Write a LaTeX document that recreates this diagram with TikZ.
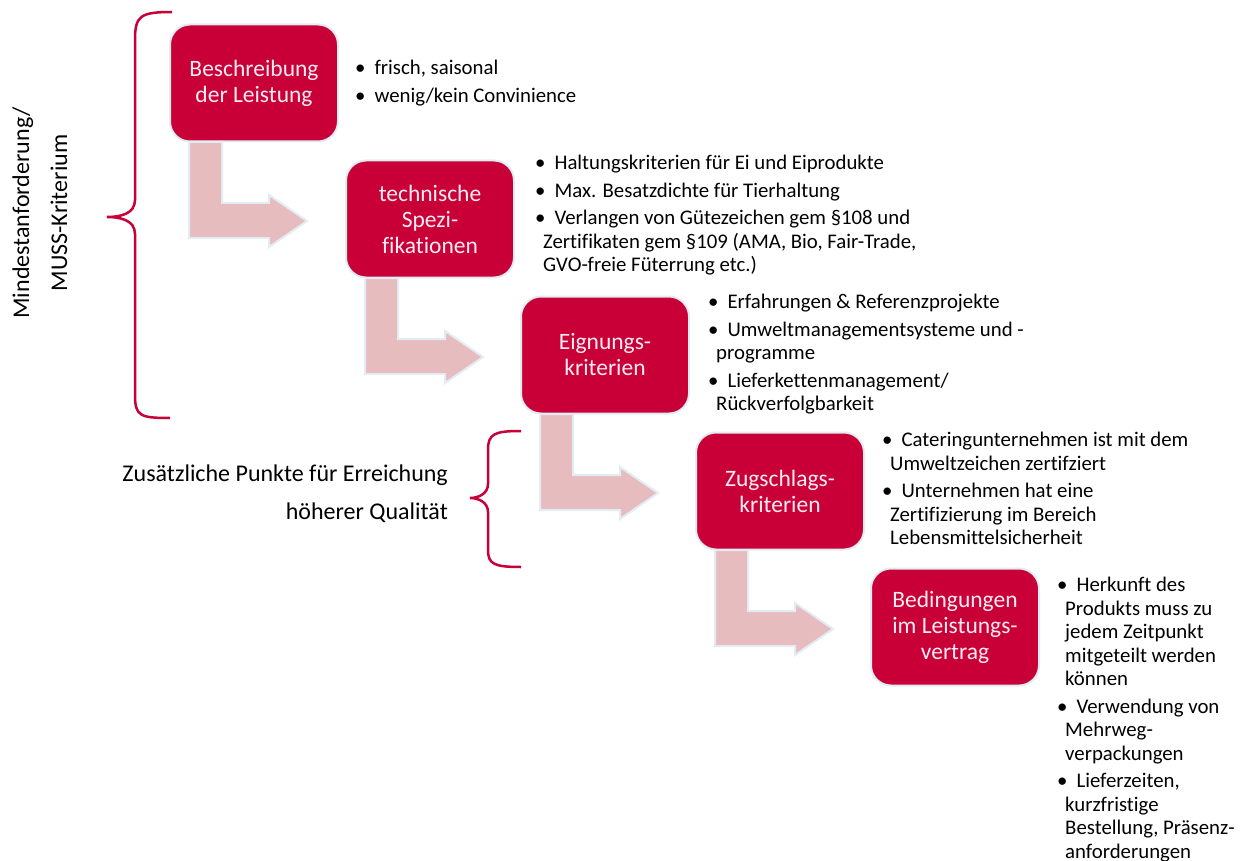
\documentclass[tikz,border=0pt]{standalone}
\usepackage{fontspec}
\setmainfont{Carlito}[Ligatures=NoCommon]
\usepackage{tikz}

\definecolor{crimson}{RGB}{200,0,55}
\definecolor{rosearrow}{RGB}{230,188,191}
\definecolor{paleedge}{RGB}{226,236,242}
\definecolor{boxtext}{RGB}{252,236,241}

\newcommand{\bul}{\textbullet\hspace{9pt}}
\newcommand{\cnt}{\hspace{8pt}}

\tikzset{
  stage/.style={rectangle,rounded corners=20pt,fill=crimson,draw=paleedge,line width=2pt,
    minimum width=168pt,minimum height=117pt,align=center,text=boxtext,
    font=\fontsize{23.5}{26}\selectfont},
  points/.style={anchor=north west,inner sep=0pt,align=left,
    font=\fontsize{20.8}{23.5}\selectfont},
  bentarrow/.style={fill=rosearrow,draw=paleedge,line width=2pt,line join=miter},
  bracket/.style={draw=crimson,line width=2.5pt},
  side/.style={inner sep=0pt,font=\fontsize{24}{38}\selectfont}
}

\begin{document}
\begin{tikzpicture}[x=1pt,y=-1pt]
  \useasboundingbox (0,0) rectangle (1250,861);
  % the stages
  \node[stage] (b1) at (254,83) {Beschreibung\\der Leistung};
  \node[stage] (b2) at (430,219) {technische\\Spezi-\\fikationen};
  \node[stage] (b3) at (605,355) {Eignungs-\\kriterien};
  \node[stage] (b4) at (780,491) {Zugschlags-\\kriterien};
  \node[stage] (b5) at (955,627) {Bedingungen\\im Leistungs-\\vertrag};
  % arrows from one stage to the next
  \foreach \i in {1,...,4}
    \draw[bentarrow,shift={(b\i.center)}] (-65,59) -- (-32,59) -- (-32,120) -- (15,120)
      -- (15,112) -- (53,138) -- (15,164) -- (15,155) -- (-65,155) -- cycle;
  % the lists
  \node[points] (l1) at (355,60) {\bul frisch, saisonal\\[4pt]
    \bul wenig/kein Convinience};
  \node[points] (l2) at (535,155) {\bul Haltungskriterien für Ei und Eiprodukte\\[4pt]
    \bul Max. Besatzdichte für Tierhaltung\\[4pt]
    \bul Verlangen von Gütezeichen gem §108 und\\
    \cnt Zertifikaten gem §109 (AMA, Bio, Fair-Trade,\\
    \cnt GVO-freie Füterrung etc.)};
  \node[points] (l3) at (708,294) {\bul Erfahrungen \& Referenzprojekte\\[4pt]
    \bul Umweltmanagementsysteme und -\\
    \cnt programme\\[4pt]
    \bul Lieferkettenmanagement/\\
    \cnt Rückverfolgbarkeit};
  \node[points] (l4) at (882,432) {\bul Cateringunternehmen ist mit dem\\
    \cnt Umweltzeichen zertifziert\\[4pt]
    \bul Unternehmen hat eine\\
    \cnt Zertifizierung im Bereich\\
    \cnt Lebensmittelsicherheit};
  \node[points] (l5) at (1057,577) {\bul Herkunft des\\
    \cnt Produkts muss zu\\
    \cnt jedem Zeitpunkt\\
    \cnt mitgeteilt werden\\
    \cnt können\\[4pt]
    \bul Verwendung von\\
    \cnt Mehrweg-\\
    \cnt verpackungen\\[4pt]
    \bul Lieferzeiten,\\
    \cnt kurzfristige\\
    \cnt Bestellung, Präsenz-\\
    \cnt anforderungen};
  % brackets
  \draw[bracket] (172,12) .. controls (140,12) and (135,16) .. (135,40) -- (135,200)
    .. controls (135,214) and (120,217) .. (107,217)
    .. controls (120,217) and (135,220) .. (135,234) -- (135,395)
    .. controls (135,416) and (140,418) .. (170,418);
  \draw[bracket] (521,431) .. controls (494,431) and (488,434) .. (488,450) -- (488,484)
    .. controls (488,494) and (478,498) .. (470,498)
    .. controls (478,498) and (488,502) .. (488,512) -- (488,550)
    .. controls (488,564) and (494,567) .. (521,567);
  % side texts
  \node[side,rotate=90,align=center] (must) at (40,213) {Mindestanforderung/\\MUSS-Kriterium};
  \node[side,anchor=east,align=right] (extra) at (448,494) {Zusätzliche Punkte für Erreichung\\höherer Qualität};
\end{tikzpicture}
\end{document}
